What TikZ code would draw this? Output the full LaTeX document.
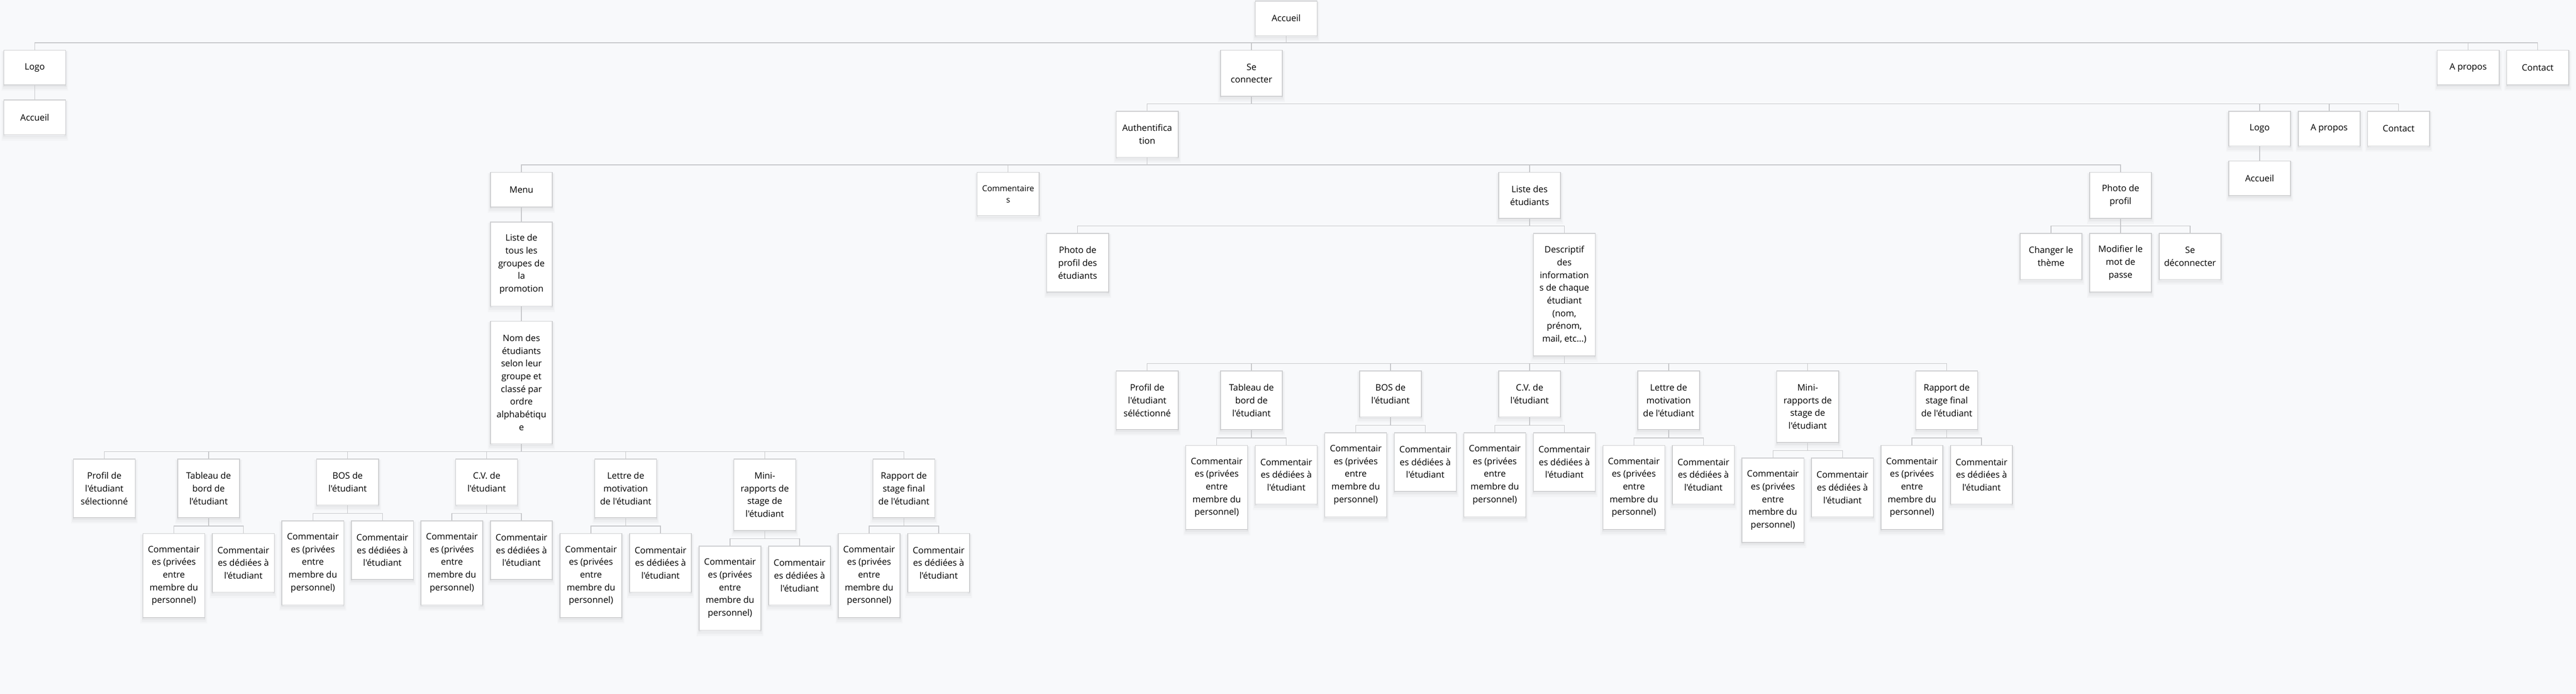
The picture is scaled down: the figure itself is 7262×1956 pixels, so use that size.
\documentclass[tikz,border=0pt]{standalone}
\usepackage{fontspec}
\newfontfamily\osans{Open Sans}
\definecolor{bgc}{RGB}{248,249,251}
\definecolor{linec}{RGB}{198,199,202}
\definecolor{boxc}{RGB}{205,206,208}
\tikzset{
  softshadow/.style={
    preaction={draw=black, draw opacity=0.018, line width=14pt, transform canvas={yshift=-9pt}},
    preaction={draw=black, draw opacity=0.025, line width=8pt, transform canvas={yshift=-7pt}},
    preaction={draw=black, draw opacity=0.035, line width=3pt, transform canvas={yshift=-4pt}}},
  box/.style={softshadow, draw=boxc, line width=2.2pt, fill=white, minimum width=174.5pt,
    minimum height=98pt, inner sep=0pt, align=center, anchor=north, text=black,
    font=\osans\fontsize{25}{35.9}\selectfont},
  smallf/.style={font=\osans\fontsize{23}{32.5}\selectfont},
  nltwo/.style={minimum height=129.8pt},
  nlthree/.style={minimum height=165.7pt},
  nlfour/.style={minimum height=201.6pt},
  nlfive/.style={minimum height=237.5pt},
  nleight/.style={minimum height=345.2pt},
  conn/.style={draw=linec, line width=2pt}
}
\newcommand\tlink[3]{%
  \draw[conn] (#2.north) -- ++(0,-20) coordinate (tmpbar) -| (#3.north);
  \draw[conn] (#1.south) -- (#1.south |- tmpbar);}
\newcommand\tmid[1]{\draw[conn] (#1.north) -- ++(0,-20);}
\newcommand\slink[2]{\draw[conn] (#1.south) -- (#2.north);}
\newcommand\strow[4]{%
  \node[box,nlthree] (#1prof) at (294+#2,#3) {Profil de\\l'étudiant\\#4};
  \node[box,nlthree] (#1tab) at (588+#2,#3) {Tableau de\\bord de\\l'étudiant};
  \node[box,nltwo] (#1bos) at (980+#2,#3) {BOS de\\l'étudiant};
  \node[box,nltwo] (#1cv) at (1372+#2,#3) {C.V. de\\l'étudiant};
  \node[box,nlthree] (#1let) at (1764+#2,#3) {Lettre de\\motivation\\de l'étudiant};
  \node[box,nlfour] (#1mini) at (2156+#2,#3) {Mini-\\rapports de\\stage de\\l'étudiant};
  \node[box,nlthree] (#1rap) at (2548+#2,#3) {Rapport de\\stage final\\de l'étudiant};
  \foreach \p in {tab,bos,cv,let,mini,rap}{
    \node[box,nlfive] (#1\p a) at ([xshift=-98pt,yshift=-42pt]#1\p.south)
      {Commentair\\es (privées\\entre\\membre du\\personnel)};
    \node[box,nlthree] (#1\p b) at ([xshift=98pt,yshift=-42pt]#1\p.south)
      {Commentair\\es dédiées à\\l'étudiant};
    \tlink{#1\p}{#1\p a}{#1\p b}
  }
  \foreach \p in {tab,bos,cv,let,mini}{\tmid{#1\p}}
}
\begin{document}
\begin{tikzpicture}[x=1pt,y=-1pt]
\fill[bgc] (0,0) rectangle (7262,1956);
% top levels
\node[box] (acc0) at (3626,1.5) {Accueil};
\node[box] (logo1) at (98,140.7) {Logo};
\node[box,nltwo] (secon) at (3528,140.7) {Se\\connecter};
\node[box] (apr1) at (6958,140.7) {A propos};
\node[box] (con1) at (7154,140.7) {Contact};
\node[box] (acc1) at (98,280.7) {Accueil};
\node[box,nltwo] (auth) at (3234,312.6) {Authentifica\\tion};
\node[box] (logo2) at (6370,312.6) {Logo};
\node[box] (apr2) at (6566,312.6) {A propos};
\node[box] (con2) at (6762,312.6) {Contact};
\node[box] (acc2) at (6370,452.5) {Accueil};
% level 3
\node[box] (menu) at (1470,484.8) {Menu};
\node[box,nlfive] (ltous) at (1470,624.9) {Liste de\\tous les\\groupes de\\la\\promotion};
\node[box,nleight] (nom) at (1470,904.6) {Nom des\\étudiants\\selon leur\\groupe et\\classé par\\ordre\\alphabétiqu\\e};
\node[box,smallf,minimum height=122pt] (comm) at (2842,484.8) {Commentaire\\s};
\node[box,nltwo] (liste) at (4312,484.8) {Liste des\\étudiants};
\node[box,nltwo] (photo) at (5978,484.8) {Photo de\\profil};
\node[box,nlthree] (ppe) at (3038,657) {Photo de\\profil des\\étudiants};
\node[box,nleight] (desc) at (4410,657) {Descriptif\\des\\information\\s de chaque\\étudiant\\(nom,\\prénom,\\mail, etc...)};
\node[box,nltwo] (theme) at (5782,656.8) {Changer le\\thème};
\node[box,nlthree] (mdp) at (5978,656.8) {Modifier le\\mot de\\passe};
\node[box,nltwo] (deco) at (6174,656.8) {Se\\déconnecter};
% student rows
\strow{L}{0}{1292.9}{sélectionné}
\strow{R}{2940}{1044.6}{séléctionné}
% connectors
\tlink{acc0}{logo1}{con1} \tmid{secon} \tmid{apr1}
\slink{logo1}{acc1}
\tlink{secon}{auth}{con2} \tmid{logo2} \tmid{apr2}
\slink{logo2}{acc2}
\tlink{auth}{menu}{photo} \tmid{comm} \tmid{liste}
\slink{menu}{ltous}
\slink{ltous}{nom}
\tlink{liste}{ppe}{desc}
\tlink{photo}{theme}{deco} \tmid{mdp}
\tlink{nom}{Lprof}{Lrap}
\tlink{desc}{Rprof}{Rrap}
\end{tikzpicture}
\end{document}
